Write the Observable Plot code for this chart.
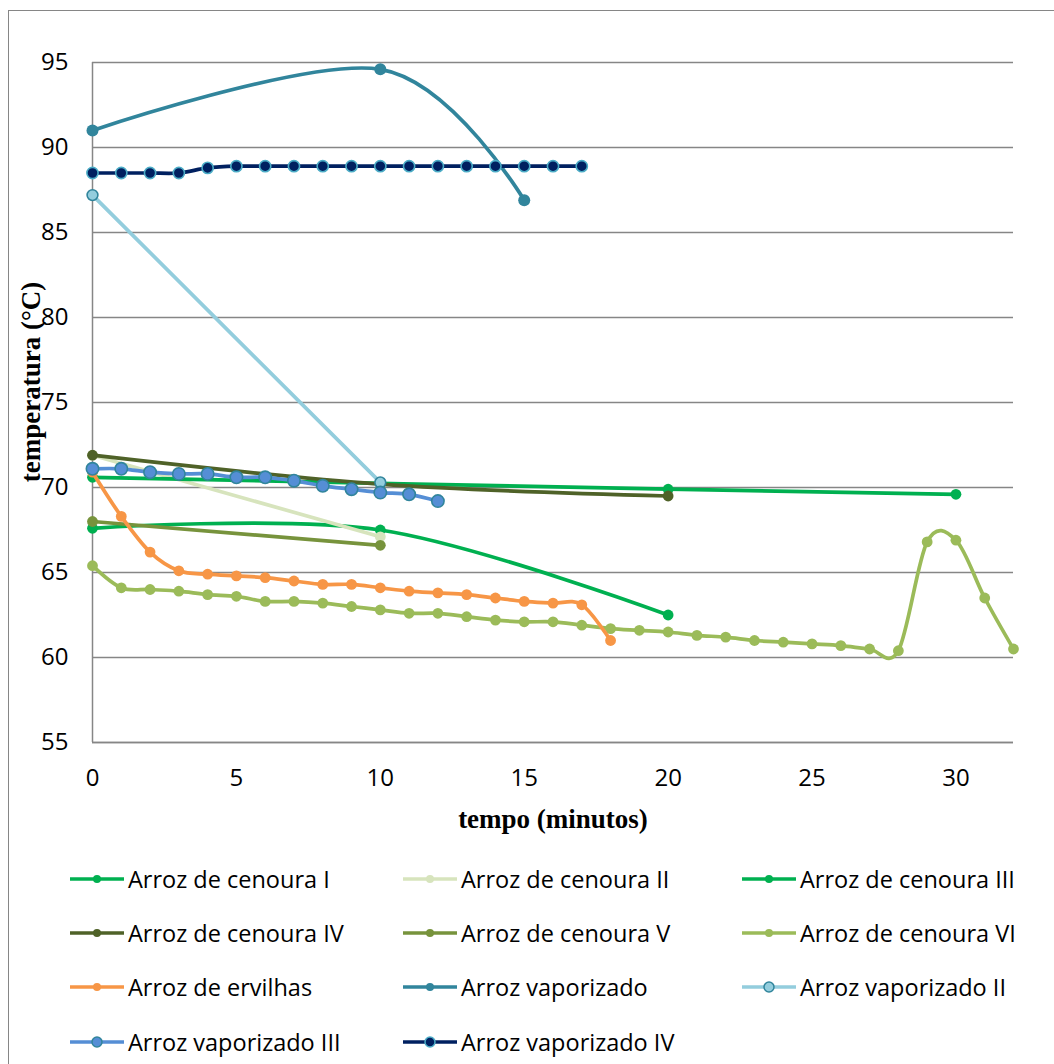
<!DOCTYPE html>
<html>
<head>
<meta charset="utf-8">
<script src="https://cdn.jsdelivr.net/npm/d3@7"></script>
<script src="https://cdn.jsdelivr.net/npm/@observablehq/plot@0.6"></script>
<style>
  html, body { margin: 0; padding: 0; background: #fff; }
  #wrap { position: relative; width: 1054px; height: 1064px; overflow: hidden; background: #fff; }
  #frame { position: absolute; left: 8px; top: 10px; width: 1100px; height: 1100px; border: 1.5px solid #868686; box-sizing: border-box; }
  #chart { position: absolute; left: 0; top: 0; }
  .leg { position: absolute; display: flex; align-items: center; font-family: "Open Sans", sans-serif; font-size: 23.5px; color: #000; white-space: nowrap; }
  .leg svg { display: block; margin-right: 4px; }
</style>
</head>
<body>
<div id="wrap"><div id="frame"></div><div id="chart"></div></div>
<script>
// ---------- data ----------
const nomes = [
  "Arroz de cenoura I", "Arroz de cenoura II", "Arroz de cenoura III",
  "Arroz de cenoura IV", "Arroz de cenoura V", "Arroz de cenoura VI",
  "Arroz de ervilhas", "Arroz vaporizado", "Arroz vaporizado II",
  "Arroz vaporizado III", "Arroz vaporizado IV"
];

const tempoCenouraI = [0, 10, 20];
const tempCenouraI = [67.6, 67.5, 62.5];

const tempoCenouraII = [0, 10];
const tempCenouraII = [71.9, 67.1];

const tempoCenouraIII = [0, 20, 30];
const tempCenouraIII = [70.6, 69.9, 69.6];

const tempoCenouraIV = [0, 10, 20];
const tempCenouraIV = [71.9, 70.2, 69.5];

const tempoCenouraV = [0, 10];
const tempCenouraV = [68.0, 66.6];

const tempoCenouraVI = [0, 1, 2, 3, 4, 5, 6, 7, 8, 9, 10, 11, 12, 13, 14, 15, 16,
  17, 18, 19, 20, 21, 22, 23, 24, 25, 26, 27, 28, 29, 30, 31, 32];
const tempCenouraVI = [65.4, 64.1, 64.0, 63.9, 63.7, 63.6, 63.3, 63.3, 63.2, 63.0, 62.8,
  62.6, 62.6, 62.4, 62.2, 62.1, 62.1, 61.9, 61.7, 61.6, 61.5, 61.3, 61.2, 61.0, 60.9,
  60.8, 60.7, 60.5, 60.4, 66.8, 66.9, 63.5, 60.5];

const tempoErvilhas = [0, 1, 2, 3, 4, 5, 6, 7, 8, 9, 10, 11, 12, 13, 14, 15, 16, 17, 18];
const tempErvilhas = [70.9, 68.3, 66.2, 65.1, 64.9, 64.8, 64.7, 64.5, 64.3, 64.3, 64.1,
  63.9, 63.8, 63.7, 63.5, 63.3, 63.2, 63.1, 61.0];

const tempoVaporizado = [0, 10, 15];
const tempVaporizado = [91.0, 94.6, 86.9];

const tempoVaporizadoII = [0, 10];
const tempVaporizadoII = [87.2, 70.3];

const tempoVaporizadoIII = [0, 1, 2, 3, 4, 5, 6, 7, 8, 9, 10, 11, 12];
const tempVaporizadoIII = [71.1, 71.1, 70.9, 70.8, 70.8, 70.6, 70.6, 70.4, 70.1, 69.9, 69.7, 69.6, 69.2];

const tempoVaporizadoIV = [0, 1, 2, 3, 4, 5, 6, 7, 8, 9, 10, 11, 12, 13, 14, 15, 16, 17];
const tempVaporizadoIV = [88.5, 88.5, 88.5, 88.5, 88.8, 88.9, 88.9, 88.9, 88.9, 88.9, 88.9,
  88.9, 88.9, 88.9, 88.9, 88.9, 88.9, 88.9];

const xTicks = [0, 5, 10, 15, 20, 25, 30];
const yTicks = [55, 60, 65, 70, 75, 80, 85, 90, 95];
const xTitulo = "tempo (minutos)";
const yTitulo = "temperatura (°C)";

// ---------- styles ----------
const estilos = [
  {line: "#00B050", fill: "#00B050", stroke: "none", r: 5.4},
  {line: "#D7E4BD", fill: "#D7E4BD", stroke: "none", r: 5.4},
  {line: "#00B050", fill: "#00B050", stroke: "none", r: 5.4},
  {line: "#4F6228", fill: "#4F6228", stroke: "none", r: 5.4},
  {line: "#77933C", fill: "#77933C", stroke: "none", r: 5.4},
  {line: "#9BBB59", fill: "#9BBB59", stroke: "none", r: 5.4},
  {line: "#F79646", fill: "#F79646", stroke: "none", r: 5.4},
  {line: "#31859C", fill: "#31859C", stroke: "none", r: 6},
  {line: "#93CDDD", fill: "#93CDDD", stroke: "#31859C", r: 5.4},
  {line: "#558ED5", fill: "#558ED5", stroke: "#31859C", r: 6.2},
  {line: "#002060", fill: "#002060", stroke: "#4BACC6", r: 5.6}
];

const tempos = [tempoCenouraI, tempoCenouraII, tempoCenouraIII, tempoCenouraIV, tempoCenouraV,
  tempoCenouraVI, tempoErvilhas, tempoVaporizado, tempoVaporizadoII, tempoVaporizadoIII, tempoVaporizadoIV];
const temps = [tempCenouraI, tempCenouraII, tempCenouraIII, tempCenouraIV, tempCenouraV,
  tempCenouraVI, tempErvilhas, tempVaporizado, tempVaporizadoII, tempVaporizadoIII, tempVaporizadoIV];

const series = nomes.map((nome, i) => ({
  nome, ...estilos[i],
  data: tempos[i].map((t, j) => ({tempo: t, temp: temps[i][j]}))
}));

const marks = [
  Plot.gridY(yTicks, {stroke: "#868686", strokeOpacity: 1, strokeWidth: 1.5}),
  Plot.ruleX([0], {stroke: "#868686", strokeWidth: 1.5}),
  Plot.ruleY([55], {stroke: "#868686", strokeWidth: 1.5})
];
for (const s of series) {
  marks.push(Plot.line(s.data, {x: "tempo", y: "temp", stroke: s.line, strokeWidth: 3.7, curve: "cardinal"}));
  marks.push(Plot.dot(s.data, {x: "tempo", y: "temp", r: s.r, fill: s.fill,
    stroke: s.stroke === "none" ? null : s.stroke, strokeWidth: 1.6}));
}

const chart = Plot.plot({
  width: 1054,
  height: 850,
  marginLeft: 92,
  marginTop: 62,
  marginRight: 41,
  marginBottom: 108,
  style: {fontFamily: "'Open Sans', sans-serif", fontSize: "24px", color: "#000", background: "transparent"},
  x: {domain: [0, 32], ticks: xTicks, tickSize: 0, tickPadding: 26, label: null},
  y: {domain: [55, 95], ticks: yTicks, tickSize: 0, tickPadding: 24, label: null},
  marks
});
document.getElementById("chart").appendChild(chart);

const svg = d3.select(chart);
svg.append("text")
  .attr("x", 553).attr("y", 828)
  .attr("text-anchor", "middle")
  .attr("font-family", "'Liberation Serif', 'Times New Roman', serif")
  .attr("font-weight", "bold").attr("font-size", 27).attr("fill", "#000")
  .text(xTitulo);
svg.append("text")
  .attr("transform", "translate(40,382) rotate(-90)")
  .attr("text-anchor", "middle")
  .attr("font-family", "'Liberation Serif', 'Times New Roman', serif")
  .attr("font-weight", "bold").attr("font-size", 27).attr("fill", "#000")
  .text(yTitulo);

// ---------- legend ----------
const wrap = document.getElementById("wrap");
const colX = [70, 403, 742];
const rowY = [879, 933, 987, 1042];
series.forEach((s, i) => {
  const col = i % 3, row = Math.floor(i / 3);
  const div = document.createElement("div");
  div.className = "leg";
  div.style.left = colX[col] + "px";
  div.style.top = (rowY[row] - 18) + "px";
  div.style.height = "36px";
  const sw = d3.create("svg").attr("width", 54).attr("height", 20);
  sw.append("line").attr("x1", 0).attr("x2", 54).attr("y1", 10).attr("y2", 10)
    .attr("stroke", s.line).attr("stroke-width", 3.4);
  const rr = s.stroke === "none" ? 4 : 5;
  sw.append("circle").attr("cx", 27).attr("cy", 10).attr("r", rr)
    .attr("fill", s.fill)
    .attr("stroke", s.stroke === "none" ? "none" : s.stroke)
    .attr("stroke-width", 1.5);
  div.appendChild(sw.node());
  const span = document.createElement("span");
  span.textContent = s.nome;
  div.appendChild(span);
  wrap.appendChild(div);
});
</script>
</body>
</html>
